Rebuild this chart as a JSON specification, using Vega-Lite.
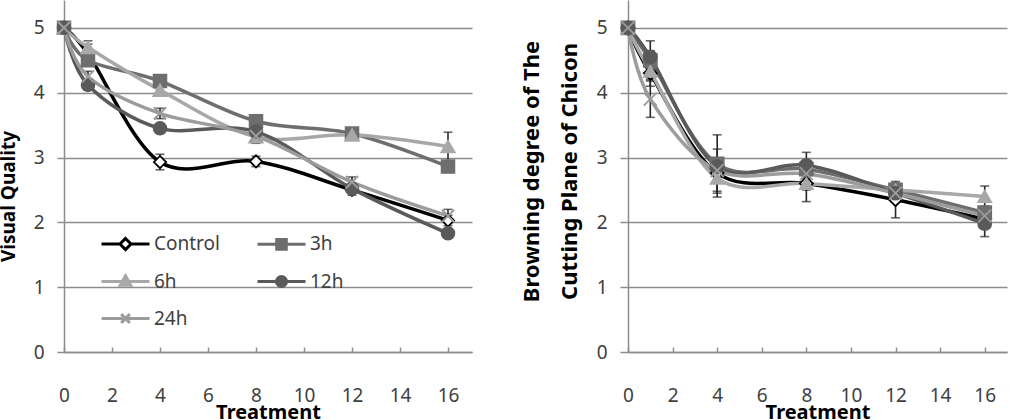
{
  "$schema": "https://vega.github.io/schema/vega-lite/v6.json",
  "autosize": {"type": "none"},
  "padding": {"left": 64, "top": 0, "right": 6, "bottom": 68},
  "params": [
    {"name": "width", "value": 943},
    {"name": "height", "value": 352}
  ],
  "bounds": "flush",
  "spacing": 156,
  "background": "white",
  "config": {
    "view": {"stroke": null},
    "font": "Noto Sans",
    "axis": {
      "labelFont": "Noto Sans",
      "labelFontSize": 19,
      "labelColor": "#404040",
      "labelFlush": false,
      "titleFont": "Noto Sans",
      "titleFontWeight": "bold",
      "titleColor": "#000000",
      "domainColor": "#8c8c8c",
      "domainWidth": 1.5,
      "tickColor": "#8c8c8c",
      "tickWidth": 1.5,
      "gridColor": "#8c8c8c",
      "gridWidth": 1.5
    }
  },
  "datasets": {
    "quality": [
      {"time": 0, "series": "Control", "value": 5.0, "err": 0},
      {"time": 1, "series": "Control", "value": 4.6, "err": 0.15},
      {"time": 4, "series": "Control", "value": 2.93, "err": 0.12},
      {"time": 8, "series": "Control", "value": 2.94, "err": 0.08},
      {"time": 12, "series": "Control", "value": 2.5, "err": 0.08},
      {"time": 16, "series": "Control", "value": 2.03, "err": 0.08},
      {"time": 0, "series": "3h", "value": 5.0, "err": 0},
      {"time": 1, "series": "3h", "value": 4.5, "err": 0.08},
      {"time": 4, "series": "3h", "value": 4.18, "err": 0.08},
      {"time": 8, "series": "3h", "value": 3.56, "err": 0.1},
      {"time": 12, "series": "3h", "value": 3.37, "err": 0.06},
      {"time": 16, "series": "3h", "value": 2.86, "err": 0.08},
      {"time": 0, "series": "6h", "value": 5.0, "err": 0},
      {"time": 1, "series": "6h", "value": 4.7, "err": 0.1},
      {"time": 4, "series": "6h", "value": 4.04, "err": 0.06},
      {"time": 8, "series": "6h", "value": 3.32, "err": 0.1},
      {"time": 12, "series": "6h", "value": 3.35, "err": 0.05},
      {"time": 16, "series": "6h", "value": 3.17, "err": 0.22},
      {"time": 0, "series": "12h", "value": 5.0, "err": 0},
      {"time": 1, "series": "12h", "value": 4.12, "err": 0.08},
      {"time": 4, "series": "12h", "value": 3.45, "err": 0.06},
      {"time": 8, "series": "12h", "value": 3.4, "err": 0.06},
      {"time": 12, "series": "12h", "value": 2.52, "err": 0.06},
      {"time": 16, "series": "12h", "value": 1.83, "err": 0.06},
      {"time": 0, "series": "24h", "value": 5.0, "err": 0},
      {"time": 1, "series": "24h", "value": 4.25, "err": 0.08},
      {"time": 4, "series": "24h", "value": 3.68, "err": 0.08},
      {"time": 8, "series": "24h", "value": 3.33, "err": 0.1},
      {"time": 12, "series": "24h", "value": 2.62, "err": 0.08},
      {"time": 16, "series": "24h", "value": 2.1, "err": 0.1}
    ],
    "browning": [
      {"time": 0, "series": "Control", "value": 5.0, "err": 0},
      {"time": 1, "series": "Control", "value": 4.3, "err": 0.2},
      {"time": 4, "series": "Control", "value": 2.76, "err": 0.37},
      {"time": 8, "series": "Control", "value": 2.6, "err": 0.1},
      {"time": 12, "series": "Control", "value": 2.35, "err": 0.28},
      {"time": 16, "series": "Control", "value": 2.05, "err": 0.1},
      {"time": 0, "series": "3h", "value": 5.0, "err": 0},
      {"time": 1, "series": "3h", "value": 4.5, "err": 0.3},
      {"time": 4, "series": "3h", "value": 2.9, "err": 0.45},
      {"time": 8, "series": "3h", "value": 2.82, "err": 0.1},
      {"time": 12, "series": "3h", "value": 2.5, "err": 0.1},
      {"time": 16, "series": "3h", "value": 2.15, "err": 0.1},
      {"time": 0, "series": "6h", "value": 5.0, "err": 0},
      {"time": 1, "series": "6h", "value": 4.33, "err": 0.1},
      {"time": 4, "series": "6h", "value": 2.68, "err": 0.2},
      {"time": 8, "series": "6h", "value": 2.6, "err": 0.28},
      {"time": 12, "series": "6h", "value": 2.5, "err": 0.1},
      {"time": 16, "series": "6h", "value": 2.4, "err": 0.16},
      {"time": 0, "series": "12h", "value": 5.0, "err": 0},
      {"time": 1, "series": "12h", "value": 4.55, "err": 0.1},
      {"time": 4, "series": "12h", "value": 2.86, "err": 0.1},
      {"time": 8, "series": "12h", "value": 2.88, "err": 0.2},
      {"time": 12, "series": "12h", "value": 2.45, "err": 0.1},
      {"time": 16, "series": "12h", "value": 1.98, "err": 0.2},
      {"time": 0, "series": "24h", "value": 5.0, "err": 0},
      {"time": 1, "series": "24h", "value": 3.9, "err": 0.28},
      {"time": 4, "series": "24h", "value": 2.8, "err": 0.1},
      {"time": 8, "series": "24h", "value": 2.75, "err": 0.1},
      {"time": 12, "series": "24h", "value": 2.45, "err": 0.1},
      {"time": 16, "series": "24h", "value": 2.1, "err": 0.1}
    ]
  },
  "resolve": {
    "scale": {"stroke": "independent", "fill": "independent", "shape": "independent"},
    "legend": {"stroke": "independent", "fill": "independent", "shape": "independent"}
  },
  "hconcat": [
    {
      "width": 408,
      "height": 352,
      "data": {"name": "quality"},
      "encoding": {
        "x": {
          "field": "time",
          "type": "quantitative",
          "scale": {"domain": [0, 17], "nice": false, "zero": false},
          "axis": {
            "values": [0, 2, 4, 6, 8, 10, 12, 14, 16],
            "grid": false,
            "tickSize": -5,
            "labelPadding": 39,
            "labelBaseline": "top",
            "title": "Treatment",
            "titleFontSize": 20,
            "titleY": 66,
            "titleBaseline": "alphabetic"
          }
        },
        "y": {
          "field": "value",
          "type": "quantitative",
          "scale": {"domain": [0, 5.43], "nice": false},
          "axis": {
            "values": [0, 1, 2, 3, 4, 5],
            "grid": true,
            "tickSize": 7,
            "labelPadding": 13,
            "title": "Visual Quality",
            "titleFontSize": 19,
            "titleAngle": 270,
            "titleX": -50,
            "titleY": 196,
            "titleAlign": "center",
            "titleBaseline": "alphabetic"
          }
        }
      },
      "layer": [
        {
          "mark": {"type": "errorbar", "color": "#262626", "thickness": 1.6, "ticks": {"size": 9, "thickness": 1.6}},
          "encoding": {"yError": {"field": "err"}}
        },
        {
          "mark": {"type": "line", "interpolate": "cardinal", "strokeWidth": 3.5},
          "encoding": {
            "stroke": {
              "field": "series",
              "type": "nominal",
              "scale": {"domain": ["Control", "3h", "6h", "12h", "24h"], "range": ["#000000", "#6e6e6e", "#a8a8a8", "#5a5a5a", "#9c9c9c"]}
            }
          }
        },
        {
          "mark": {"type": "point", "opacity": 0, "size": 1},
          "encoding": {
            "stroke": {
              "field": "series",
              "type": "nominal",
              "scale": {"domain": ["Control", "3h", "6h", "12h", "24h"], "range": ["#000000", "#6e6e6e", "#a8a8a8", "#5a5a5a", "#9c9c9c"]},
              "legend": {
                "orient": "none",
                "legendX": 36,
                "legendY": 218,
                "direction": "horizontal",
                "columns": 2,
                "title": null,
                "padding": 0,
                "columnPadding": 31,
                "rowPadding": -24,
                "labelFont": "Noto Sans",
                "labelFontSize": 19,
                "labelColor": "#404040",
                "labelOffset": 3,
                "symbolSize": 2304,
                "symbolStrokeWidth": 3,
                "symbolOpacity": 1
              }
            },
            "fill": {
              "field": "series",
              "type": "nominal",
              "scale": {"domain": ["Control", "3h", "6h", "12h", "24h"], "range": ["#ffffff", "#6e6e6e", "#a8a8a8", "#5a5a5a", "transparent"]},
              "legend": null
            },
            "shape": {
              "field": "series",
              "type": "nominal",
              "scale": {"domain": ["Control", "3h", "6h", "12h", "24h"], "range": ["M-1,0H-0.23M0.23,0H1M0,-0.23L0.23,0L0,0.23L-0.23,0Z", "M-1,0H1M-0.2,-0.2H0.2V0.2H-0.2Z", "M-1,0H1M0,-0.24L0.22,0.16H-0.22Z", "M-1,0H1M-0.21,0A0.21,0.21,0,1,1,0.21,0A0.21,0.21,0,1,1,-0.21,0Z", "M-1,0H1M-0.18,-0.18L0.18,0.18M-0.18,0.18L0.18,-0.18"]},
              "legend": null
            }
          }
        },
        {
          "transform": [{"filter": "datum.series === 'Control'"}],
          "mark": {"type": "point", "shape": "diamond", "size": 150, "fill": "#ffffff", "stroke": "#000000", "strokeWidth": 1.8, "opacity": 1}
        },
        {
          "transform": [{"filter": "datum.series === '3h'"}],
          "mark": {"type": "point", "shape": "square", "size": 169, "fill": "#6e6e6e", "stroke": "#6e6e6e", "strokeWidth": 1.5, "opacity": 1}
        },
        {
          "transform": [{"filter": "datum.series === '6h'"}],
          "mark": {"type": "point", "shape": "triangle-up", "size": 196, "fill": "#a8a8a8", "stroke": "#a8a8a8", "strokeWidth": 1.5, "opacity": 1}
        },
        {
          "transform": [{"filter": "datum.series === '12h'"}],
          "mark": {"type": "point", "shape": "circle", "size": 169, "fill": "#5a5a5a", "stroke": "#5a5a5a", "strokeWidth": 1.5, "opacity": 1}
        },
        {
          "transform": [{"filter": "datum.series === '24h'"}],
          "mark": {"type": "point", "shape": "M-1,-1L1,1M-1,1L1,-1", "size": 150, "fill": "transparent", "stroke": "#9c9c9c", "strokeWidth": 2, "opacity": 1}
        }
      ]
    },
    {
      "width": 379,
      "height": 352,
      "data": {"name": "browning"},
      "encoding": {
        "x": {
          "field": "time",
          "type": "quantitative",
          "scale": {"domain": [0, 17], "nice": false, "zero": false},
          "axis": {
            "values": [0, 2, 4, 6, 8, 10, 12, 14, 16],
            "grid": false,
            "tickSize": -5,
            "labelPadding": 39,
            "labelBaseline": "top",
            "title": "Treatment",
            "titleFontSize": 20,
            "titleY": 66,
            "titleBaseline": "alphabetic"
          }
        },
        "y": {
          "field": "value",
          "type": "quantitative",
          "scale": {"domain": [0, 5.43], "nice": false},
          "axis": {
            "values": [0, 1, 2, 3, 4, 5],
            "grid": true,
            "tickSize": 8,
            "labelPadding": 13,
            "title": ["Browning degree of The", "Cutting Plane of Chicon"],
            "titleFontSize": 22,
            "titleLineHeight": 38,
            "titleAngle": 270,
            "titleX": -90,
            "titleY": 171,
            "titleAlign": "center",
            "titleBaseline": "alphabetic"
          }
        }
      },
      "layer": [
        {
          "mark": {"type": "errorbar", "color": "#262626", "thickness": 1.6, "ticks": {"size": 9, "thickness": 1.6}},
          "encoding": {"yError": {"field": "err"}}
        },
        {
          "mark": {"type": "line", "interpolate": "cardinal", "strokeWidth": 3.5},
          "encoding": {
            "stroke": {
              "field": "series",
              "type": "nominal",
              "scale": {"domain": ["Control", "3h", "6h", "12h", "24h"], "range": ["#000000", "#6e6e6e", "#a8a8a8", "#5a5a5a", "#9c9c9c"]},
              "legend": null
            }
          }
        },
        {
          "mark": {"type": "point", "size": 169, "strokeWidth": 1.8, "opacity": 1},
          "encoding": {
            "stroke": {
              "field": "series",
              "type": "nominal",
              "scale": {"domain": ["Control", "3h", "6h", "12h", "24h"], "range": ["#000000", "#6e6e6e", "#a8a8a8", "#5a5a5a", "#9c9c9c"]},
              "legend": null
            },
            "fill": {
              "field": "series",
              "type": "nominal",
              "scale": {"domain": ["Control", "3h", "6h", "12h", "24h"], "range": ["#ffffff", "#6e6e6e", "#a8a8a8", "#5a5a5a", "transparent"]},
              "legend": null
            },
            "shape": {
              "field": "series",
              "type": "nominal",
              "scale": {"domain": ["Control", "3h", "6h", "12h", "24h"], "range": ["diamond", "square", "triangle-up", "circle", "M-1,-1L1,1M-1,1L1,-1"]},
              "legend": null
            }
          }
        }
      ]
    }
  ]
}
